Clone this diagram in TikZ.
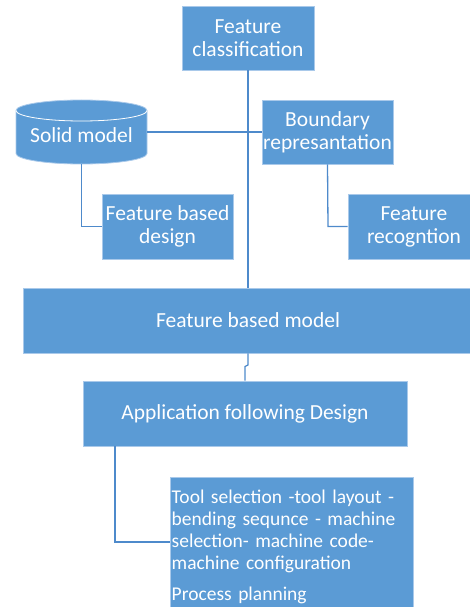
\documentclass[tikz,border=0pt]{standalone}
\usepackage{fontspec}
\setmainfont{Carlito}
\definecolor{boxblue}{HTML}{5B9BD5}
\definecolor{edgeblue}{HTML}{A9C9EA}
\definecolor{linkblue}{HTML}{4E8ACB}
\begin{document}
\begin{tikzpicture}[x=1pt,y=1pt,
  every node/.style={font=\fontsize{21.5}{23}\selectfont, text=white},
  blockbox/.style={draw=edgeblue, line width=0.8pt, fill=boxblue, inner sep=0pt, align=center},
  link/.style={draw=linkblue, line width=1.3pt}]
\useasboundingbox (0,0) rectangle (470,-607);
\clip (0,0) rectangle (470,-607);

% top-level and second-level boxes
\node[blockbox, minimum width=132, minimum height=64] (fc) at (248,-38) {Feature\\classification};
\node[blockbox, minimum width=131, minimum height=64] (br) at (327.5,-132) {Boundary\\represantation};
\node[blockbox, minimum width=131, minimum height=65] (fbd) at (167.5,-226.5) {Feature based\\design};
\node[blockbox, minimum width=132, minimum height=65] (fr) at (414,-226.5) {Feature\\recogntion};
\node[blockbox, minimum width=450, minimum height=65] (fbm) at (248,-320.5) {Feature based model};
\node[blockbox, minimum width=324, minimum height=65] (afd) at (245,-413.5) {Application following Design};

% process planning box with left-aligned list
\node[blockbox, minimum width=243, minimum height=145, anchor=north west] (pp) at (170,-477) {};
\node[anchor=north west, inner sep=0pt, text width=245, align=left,
      font=\fontsize{19.5}{22}\selectfont] (pptext) at (171.5,-489.5)
  {Tool selection -tool layout -\\bending sequnce - machine\\selection- machine code-\\machine configuration\\[9.5pt]Process planning};

% solid model cylinder
\fill[boxblue] (16,-110.5) -- (16,-153.5) arc (180:360:65.5 and 10.5)
  -- (147,-110.5) arc (0:180:65.5 and 10.5) -- cycle;
\draw[edgeblue, line width=0.8pt] (16,-110.5) -- (16,-153.5) arc (180:360:65.5 and 10.5)
  -- (147,-110.5) arc (0:180:65.5 and 10.5) -- cycle;
\draw[white, line width=0.8pt] (16,-110.5) arc (180:360:65.5 and 10.5);
\node[inner sep=0pt, minimum width=131, minimum height=64] (solid) at (81.5,-132) {};
\node at (81.5,-135) {Solid model};

% connectors
\coordinate (jogA) at (248,-365);
\coordinate (jogB) at (245,-366.5);
\coordinate (fbdIn) at (81.5,-226.5);
\coordinate (frIn) at (328,-226.5);
\coordinate (ppIn) at (115,-542);
\draw[link] (fc.south) -- (fbm.north);
\draw[link] (solid.east) -- (br.west);
\draw[link] (solid.south) -- (fbdIn) -- (fbd.west);
\draw[link] (br.south) -- (frIn) -- (fr.west);
\draw[link] (fbm.south) -- (jogA) -- (jogB) -- (afd.north);
\draw[link] (afd.south -| ppIn) -- (ppIn) -- (ppIn -| pp.west);
\end{tikzpicture}
\end{document}
